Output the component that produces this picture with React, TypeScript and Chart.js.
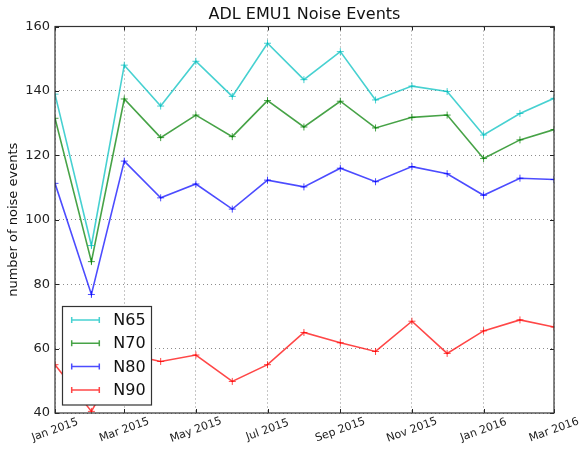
import React, { useEffect, useRef } from "react";
import { Chart, registerables } from "chart.js";

Chart.register(...registerables);

// Day offsets from 1 Jan 2015 for each monthly sample (Jan 2015 .. Mar 2016)
const dayOffsets = [0, 31, 59, 90, 120, 151, 181, 212, 243, 273, 304, 334, 365, 396, 425];
const monthLabels = [
  "Jan 2015", "Feb 2015", "Mar 2015", "Apr 2015", "May 2015", "Jun 2015", "Jul 2015",
  "Aug 2015", "Sep 2015", "Oct 2015", "Nov 2015", "Dec 2015", "Jan 2016", "Feb 2016", "Mar 2016",
];

const xTickValues = [0, 59, 120, 181, 243, 304, 365, 425];
const xTickLabels = ["Jan 2015", "Mar 2015", "May 2015", "Jul 2015", "Sep 2015", "Nov 2015", "Jan 2016", "Mar 2016"];

const seriesNames = ["N65", "N70", "N80", "N90"];
const seriesColors = ["rgba(0,191,191,0.72)", "rgba(0,128,0,0.72)", "rgba(0,0,255,0.7)", "rgba(255,0,0,0.72)"];

const n65 = [139, 92, 148, 135.3, 149.2, 138.3, 154.8, 143.5, 152.2, 137.2, 141.5, 139.8, 126.3, 133, 137.7];
const n70 = [131.5, 87, 137.5, 125.5, 132.5, 125.8, 137, 128.8, 136.8, 128.5, 131.8, 132.5, 119, 124.8, 128];
const n80 = [111.3, 76.8, 118.2, 106.8, 111.1, 103.3, 112.3, 110.2, 116, 111.8, 116.5, 114.3, 107.6, 112.9, 112.5];
const n90 = [55, 40.5, 58.5, 56, 58, 49.8, 55, 65, 61.8, 59.1, 68.5, 58.5, 65.5, 68.9, 66.7];

const seriesValues = [n65, n70, n80, n90];

const titleText = "ADL EMU1 Noise Events";
const yAxisTitle = "number of noise events";

const FONT = "'DejaVu Sans', sans-serif";

const decorPlugin = {
  id: "decor",
  afterDraw(chart: any) {
    const { ctx, chartArea } = chart;
    const { left, right, top, bottom } = chartArea;
    const xs = chart.scales.x;
    const ys = chart.scales.y;
    ctx.save();

    // title
    ctx.fillStyle = "#111";
    ctx.font = `16px ${FONT}`;
    ctx.textAlign = "center";
    ctx.textBaseline = "middle";
    ctx.fillText(titleText, (left + right) / 2, 15);

    // inward tick marks
    ctx.strokeStyle = "#222";
    ctx.lineWidth = 1;
    ctx.beginPath();
    xTickValues.forEach((v) => {
      const px = Math.round(xs.getPixelForValue(v)) + 0.5;
      ctx.moveTo(px, bottom);
      ctx.lineTo(px, bottom - 4);
      ctx.moveTo(px, top);
      ctx.lineTo(px, top + 4);
    });
    ys.ticks.forEach((t: any) => {
      const py = Math.round(ys.getPixelForValue(t.value)) + 0.5;
      ctx.moveTo(left, py);
      ctx.lineTo(left + 4, py);
      ctx.moveTo(right, py);
      ctx.lineTo(right - 4, py);
    });
    ctx.stroke();

    // x tick labels, rotated and centred on tick
    ctx.fillStyle = "#222";
    ctx.font = `11px ${FONT}`;
    ctx.textAlign = "center";
    ctx.textBaseline = "middle";
    xTickValues.forEach((v, i) => {
      const px = xs.getPixelForValue(v);
      ctx.save();
      ctx.translate(px, bottom + 17);
      ctx.rotate((-20 * Math.PI) / 180);
      ctx.fillText(xTickLabels[i], 0, 0);
      ctx.restore();
    });

    // frame
    ctx.strokeStyle = "#333";
    ctx.lineWidth = 1.2;
    ctx.strokeRect(left, top, right - left, bottom - top);

    // legend
    const bx = left + 7.5;
    const bw = 89;
    const bh = 98.5;
    const by = bottom - 8 - bh;
    ctx.fillStyle = "#fff";
    ctx.fillRect(bx, by, bw, bh);
    ctx.strokeStyle = "#333";
    ctx.lineWidth = 1.2;
    ctx.strokeRect(bx, by, bw, bh);
    ctx.font = `16px ${FONT}`;
    ctx.textAlign = "left";
    ctx.textBaseline = "middle";
    seriesNames.forEach((name, i) => {
      const cy = by + 13.5 + i * 23.3;
      const x0 = bx + 9.2;
      const x1 = bx + 36.8;
      ctx.strokeStyle = seriesColors[i];
      ctx.lineWidth = 1.5;
      ctx.beginPath();
      ctx.moveTo(x0, cy);
      ctx.lineTo(x1, cy);
      ctx.moveTo(x0, cy - 3);
      ctx.lineTo(x0, cy + 3);
      ctx.moveTo(x1, cy - 3);
      ctx.lineTo(x1, cy + 3);
      ctx.stroke();
      ctx.fillStyle = "#111";
      ctx.fillText(name, bx + 50.8, cy + 1);
    });

    ctx.restore();
  },
};

export default function App() {
  const canvasRef = useRef<HTMLCanvasElement | null>(null);

  useEffect(() => {
    if (!canvasRef.current) return;
    const datasets = seriesNames.map((name, i) => ({
      label: name,
      data: dayOffsets.map((d, j) => ({ x: d, y: seriesValues[i][j] })),
      borderColor: seriesColors[i],
      backgroundColor: seriesColors[i],
      pointBorderColor: seriesColors[i],
      pointBackgroundColor: seriesColors[i],
      borderWidth: 1.6,
      pointStyle: "cross",
      pointRadius: 3.5,
      pointBorderWidth: 1,
      tension: 0,
      fill: false,
    }));

    const chart = new Chart(canvasRef.current, {
      type: "line",
      data: { labels: monthLabels, datasets },
      plugins: [decorPlugin],
      options: {
        animation: false,
        responsive: true,
        maintainAspectRatio: false,
        layout: { padding: { left: 0, top: 26.5, right: 26, bottom: 0 } },
        plugins: {
          legend: { display: false },
          title: { display: false },
          tooltip: { enabled: false },
        },
        scales: {
          x: {
            type: "linear",
            min: 0,
            max: 425,
            afterBuildTicks: (scale: any) => {
              scale.ticks = xTickValues.map((v) => ({ value: v }));
            },
            afterFit: (scale: any) => {
              scale.height = 39;
            },
            ticks: { display: false },
            grid: { color: "rgba(0,0,0,0.45)", lineWidth: 1, drawTicks: false },
            border: { display: false, dash: [1, 3] },
          },
          y: {
            type: "linear",
            min: 40,
            max: 160,
            ticks: {
              stepSize: 20,
              padding: 5,
              color: "#222",
              font: { family: FONT, size: 13 },
            },
            afterFit: (scale: any) => {
              scale.width = 55;
            },
            title: {
              display: true,
              text: yAxisTitle,
              color: "#111",
              font: { family: FONT, size: 13 },
              padding: { top: 5.7, bottom: 0 },
            },
            grid: { color: "rgba(0,0,0,0.45)", lineWidth: 1, drawTicks: false },
            border: { display: false, dash: [1, 3] },
          },
        },
      },
    });
    return () => chart.destroy();
  }, []);

  return (
    <div style={{ position: "fixed", left: 0, top: 0, width: 580, height: 452, background: "#fff" }}>
      <canvas ref={canvasRef} />
    </div>
  );
}
